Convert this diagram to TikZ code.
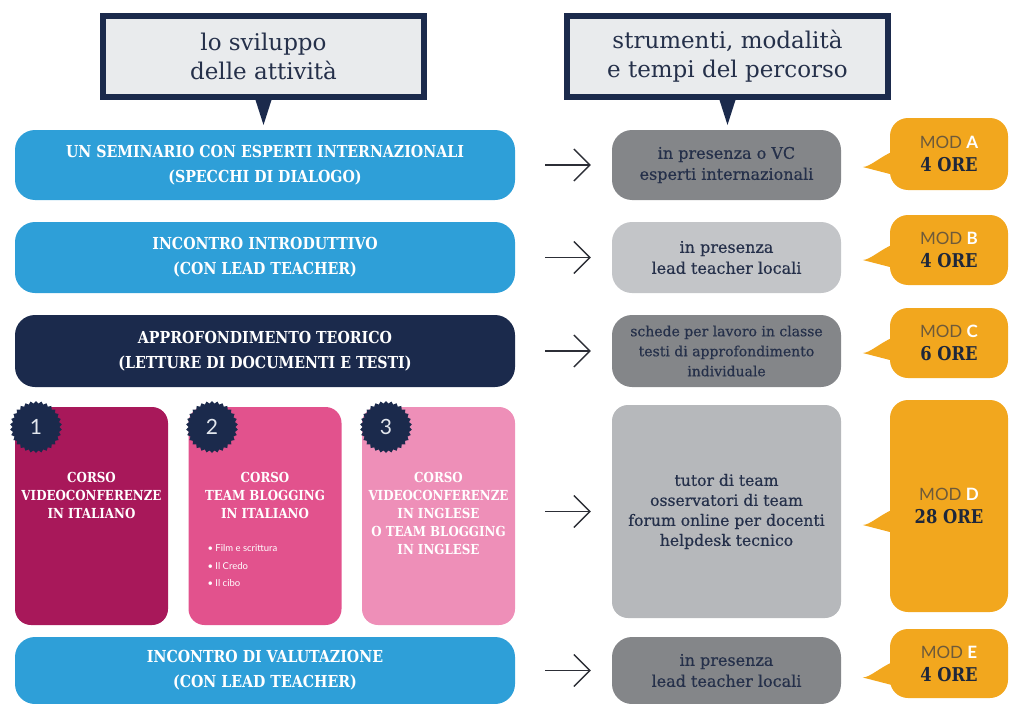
\documentclass[tikz,border=0pt]{standalone}
\usepackage{fontspec}
\setmainfont{DejaVu Serif}
\newfontfamily\slab{DejaVu Serif}[FakeStretch=0.86]
\newfontfamily\semi{DejaVu Serif}[FakeBold=0.5]
\newfontfamily\thin{Lato}
\usetikzlibrary{calc,shapes.symbols,arrows.meta}
\definecolor{navy}{HTML}{1B2A4C}
\definecolor{headgray}{HTML}{E9EBED}
\definecolor{ink}{HTML}{25304A}
\definecolor{sky}{HTML}{2E9FD8}
\definecolor{slateA}{HTML}{848689}
\definecolor{slateB}{HTML}{C3C5C8}
\definecolor{slateD}{HTML}{B6B8BB}
\definecolor{modorange}{HTML}{F2A71E}
\definecolor{modink}{HTML}{6E5A3A}
\definecolor{pinkA}{HTML}{A8185A}
\definecolor{pinkB}{HTML}{E2528D}
\definecolor{pinkC}{HTML}{EE8FB8}
\definecolor{arrowgray}{HTML}{2C2E36}
\definecolor{badgetext}{HTML}{E3E7EE}
\newcommand\modtag[2]{{\thin\color{modink}MOD \textcolor{white}{\bfseries #1}}\\{\slab\bfseries\fontsize{19}{23}\selectfont\color{ink!80!black}#2 ORE}}

\begin{document}
\begin{tikzpicture}[x=1pt,y=-1pt,
            head/.style={draw=navy,line width=6pt,fill=headgray,minimum width=321pt,minimum height=81pt,align=center,text=ink,font=\fontsize{23}{29}\selectfont},
            bar/.style={rounded corners=20pt,minimum width=500pt,align=center,text=white,font=\slab\bfseries\fontsize{16.5}{25}\selectfont},
            tool/.style={fill=slateA,rounded corners=20pt,minimum width=229pt,align=center,text=ink,font=\semi\fontsize{16}{21}\selectfont},
            mod/.style={fill=modorange,rounded corners=18pt,minimum width=118pt,align=center,font=\fontsize{17}{23}\selectfont},
            card/.style={rounded corners=16pt,minimum width=153pt,minimum height=218pt},
            cardtxt/.style={align=center,text=white,font=\slab\bfseries\fontsize{13.8}{18}\selectfont},
            badge/.style={starburst,starburst points=30,starburst point height=2.5pt,random starburst=0,fill=navy,minimum size=52pt,inner sep=0pt,text=badgetext,font=\thin\fontsize{21}{21}\selectfont},
            arr/.style={-{Straight Barb[length=16pt,width=32pt]},line width=1.3pt,draw=arrowgray,shorten <=30pt,shorten >=21pt}]
            \useasboundingbox (0,0) rectangle (1010,704);
            \node[head] (hdA) at (263.5,56.5) {lo sviluppo\\delle attività};
            \node[head] (hdB) at (727.5,56.5) {strumenti, modalità\\e tempi del percorso};
            \fill[navy] ($(hdA.south)+(-8,0)$) -- ($(hdA.south)+(8,0)$) -- ($(hdA.south)+(0,25)$) -- cycle;
            \fill[navy] ($(hdB.south)+(-8,0)$) -- ($(hdB.south)+(8,0)$) -- ($(hdB.south)+(0,25)$) -- cycle;
            \node[bar,fill=sky,minimum height=70pt] (actA) at (265,165) {UN SEMINARIO CON ESPERTI INTERNAZIONALI\\(SPECCHI DI DIALOGO)};
            \node[bar,fill=sky,minimum height=71pt] (actB) at (265,257.5) {INCONTRO INTRODUTTIVO\\(CON LEAD TEACHER)};
            \node[bar,fill=navy,minimum height=72pt] (actC) at (265,351) {APPROFONDIMENTO TEORICO\\(LETTURE DI DOCUMENTI E TESTI)};
            \node[bar,fill=sky,minimum height=67pt] (actE) at (265,670.5) {INCONTRO DI VALUTAZIONE\\(CON LEAD TEACHER)};
            \node[card,fill=pinkA] (crsA) at (91.5,516) {};
            \node[card,fill=pinkB] (crsB) at (265,516) {};
            \node[card,fill=pinkC] (crsC) at (438.5,516) {};
            \node[cardtxt] (txtA) at (91.5,495) {CORSO\\VIDEOCONFERENZE\\IN ITALIANO};
            \node[cardtxt] (txtB) at (265,495) {CORSO\\TEAM BLOGGING\\IN ITALIANO};
            \node[cardtxt] (txtC) at (438.5,513) {CORSO\\VIDEOCONFERENZE\\IN INGLESE\\O TEAM BLOGGING\\IN INGLESE};
            \node[anchor=north west,align=left,text=white,font=\thin\fontsize{9.5}{17.5}\selectfont] (lstB) at (204,541) {• Film e scrittura\\• Il Credo\\• Il cibo};
            \node[badge] (nA) at (36,427) {1};
            \node[badge] (nB) at (212,427) {2};
            \node[badge] (nC) at (386,427) {3};
            \node[tool,minimum height=70pt] (toA) at (726.5,165) {in presenza o VC\\esperti internazionali};
            \node[tool,fill=slateB,minimum height=71pt] (toB) at (726.5,257.5) {in presenza\\lead teacher locali};
            \node[tool,minimum height=72pt,font=\semi\fontsize{14}{20}\selectfont] (toC) at (726.5,351) {schede per lavoro in classe\\testi di approfondimento\\individuale};
            \node[tool,fill=slateD,minimum height=213pt,rounded corners=16pt,font=\semi\fontsize{15.6}{20}\selectfont] (toD) at (726.5,511.5) {tutor di team\\osservatori di team\\forum online per docenti\\helpdesk tecnico};
            \node[tool,minimum height=67pt] (toE) at (726.5,670.5) {in presenza\\lead teacher locali};
            \draw[arr] (actA) -- (toA);
            \draw[arr] (actB) -- (toB);
            \draw[arr] (actC) -- (toC);
            \draw[arr] (crsC.east |- toD.west) -- (toD.west);
            \draw[arr] (actE.east |- toE.west) -- (toE.west);
            \node[mod,minimum height=72pt] (mdA) at (949,154) {\modtag{A}{4}};
            \node[mod,minimum height=70pt] (mdB) at (949,250) {\modtag{B}{4}};
            \node[mod,minimum height=70pt] (mdC) at (949,343) {\modtag{C}{6}};
            \node[mod,minimum height=212pt] (mdD) at (949,506) {\modtag{D}{28}};
            \node[mod,minimum height=69pt] (mdE) at (949,663.5) {\modtag{E}{4}};
            \foreach \m/\d in {mdA/13,mdB/10,mdC/10,mdD/19,mdE/14}
                \fill[modorange] ($(\m.west)+(4,\d-16)$) .. controls ($(\m.west)+(-10,\d-10)$) and ($(\m.west)+(-20,\d)$) .. ($(\m.west)+(-27,\d)$) -- ($(\m.west)+(4,\d+8)$) -- cycle;
        \end{tikzpicture}
\end{document}
